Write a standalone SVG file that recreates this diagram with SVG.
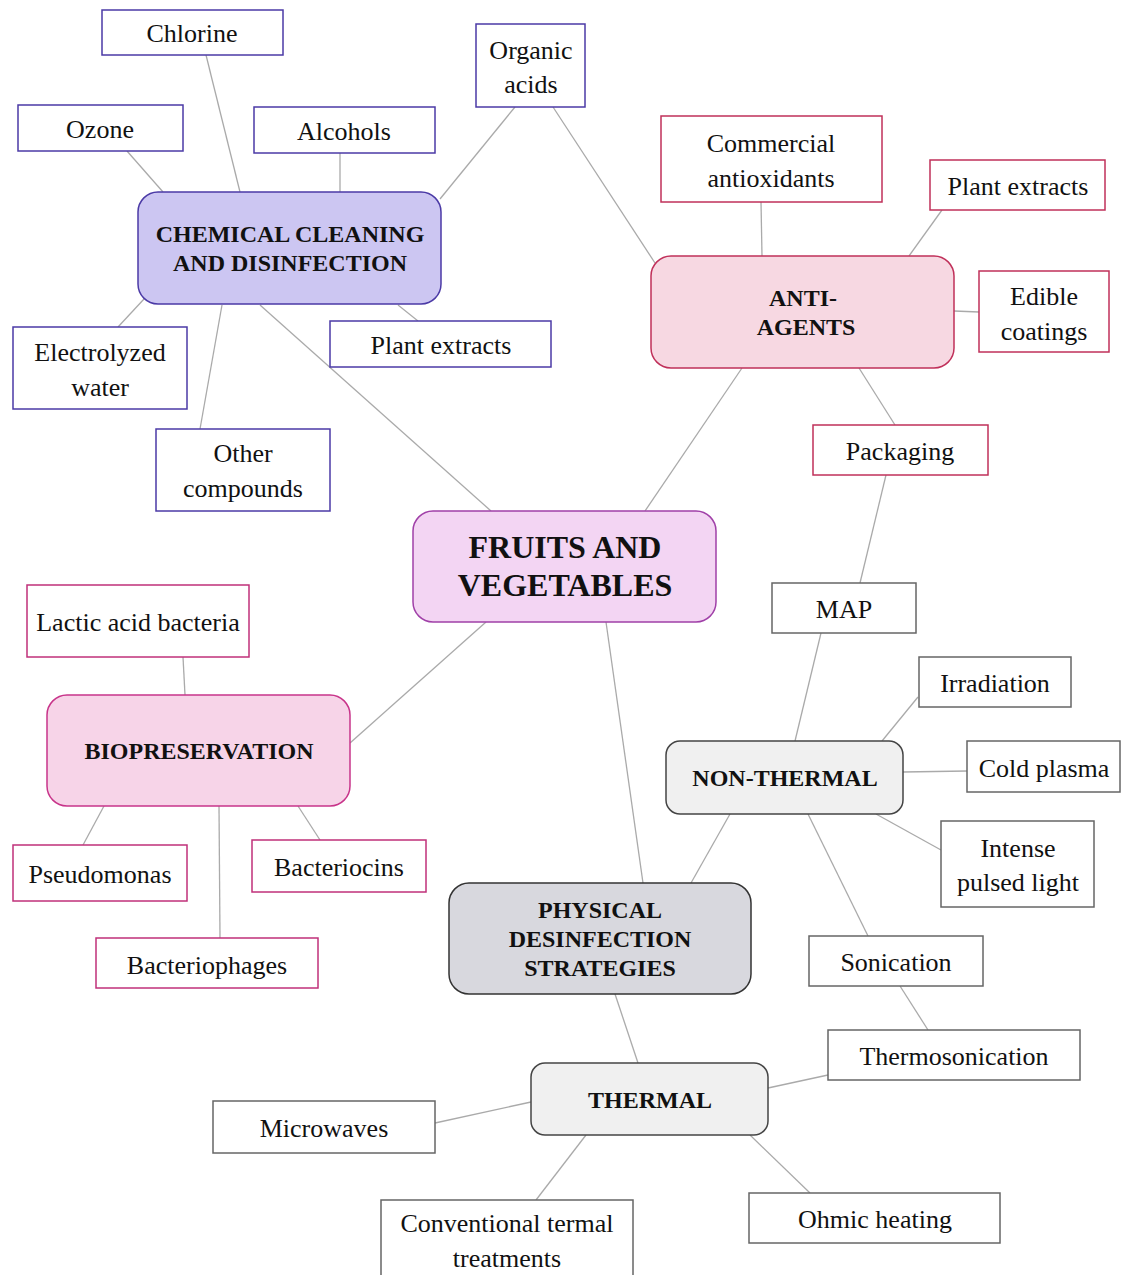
<svg xmlns="http://www.w3.org/2000/svg" width="1124" height="1275" viewBox="0 0 1124 1275">
<style>
text{font-family:"Liberation Serif","DejaVu Serif",serif;fill:#111;text-anchor:middle}
.leaf{font-size:26px}
.hd{font-size:24px;font-weight:bold}
.big{font-size:32px;font-weight:bold}
.bx{fill:#fff;stroke-width:1.5}
.cb{stroke:#4b3aa6}
.ab{stroke:#c0305a}
.bb{stroke:#c0307a}
.pb{stroke:#666}
#connectors line{stroke:#aaa;stroke-width:1.3}
</style>
<rect width="1124" height="1275" fill="#fff"/>
<g id="connectors">
<line x1="127" y1="151" x2="163" y2="192"/>
<line x1="206" y1="55" x2="240" y2="192"/>
<line x1="340" y1="153" x2="340" y2="192"/>
<line x1="515" y1="107" x2="440" y2="199"/>
<line x1="553" y1="107" x2="655" y2="263"/>
<line x1="144" y1="299" x2="118" y2="327"/>
<line x1="222" y1="305" x2="200" y2="429"/>
<line x1="398" y1="305" x2="418" y2="321"/>
<line x1="260" y1="305" x2="491" y2="511"/>
<line x1="761" y1="202" x2="762" y2="256"/>
<line x1="942" y1="210" x2="909" y2="256"/>
<line x1="954" y1="311" x2="979" y2="312"/>
<line x1="859" y1="368" x2="895" y2="425"/>
<line x1="742" y1="368" x2="645" y2="511"/>
<line x1="886" y1="475" x2="860" y2="583"/>
<line x1="821" y1="633" x2="795" y2="741"/>
<line x1="918" y1="697" x2="882" y2="741"/>
<line x1="903" y1="772" x2="967" y2="771"/>
<line x1="876" y1="814" x2="941" y2="850"/>
<line x1="808" y1="814" x2="868" y2="936"/>
<line x1="730" y1="814" x2="691" y2="883"/>
<line x1="606" y1="622" x2="643" y2="883"/>
<line x1="486" y1="622" x2="350" y2="743"/>
<line x1="183" y1="657" x2="185" y2="695"/>
<line x1="104" y1="806" x2="83" y2="845"/>
<line x1="219" y1="806" x2="220" y2="938"/>
<line x1="298" y1="806" x2="320" y2="840"/>
<line x1="900" y1="986" x2="928" y2="1030"/>
<line x1="615" y1="994" x2="638" y2="1063"/>
<line x1="768" y1="1088" x2="828" y2="1075"/>
<line x1="531" y1="1102" x2="435" y2="1123"/>
<line x1="586" y1="1135" x2="536" y2="1200"/>
<line x1="750" y1="1135" x2="810" y2="1193"/>
</g>

<g id="fruits"><rect x="413" y="511" width="303" height="111" rx="20" fill="#f3d5f3" stroke="#a040a8" stroke-width="1.5"/><text class="big" x="565" y="558">FRUITS AND</text><text class="big" x="565" y="596">VEGETABLES</text></g>

<g id="chemical"><rect x="138" y="192" width="303" height="112" rx="20" fill="#ccc6f2" stroke="#4b3aa6" stroke-width="1.5"/><text class="hd" x="290" y="242">CHEMICAL CLEANING</text><text class="hd" x="290" y="271">AND DISINFECTION</text></g>
<g id="chlorine"><rect class="bx cb" x="102" y="10" width="181" height="45"/><text class="leaf" x="192" y="42">Chlorine</text></g>
<g id="ozone"><rect class="bx cb" x="18" y="105" width="165" height="46"/><text class="leaf" x="100" y="138">Ozone</text></g>
<g id="alcohols"><rect class="bx cb" x="254" y="107" width="181" height="46"/><text class="leaf" x="344" y="140">Alcohols</text></g>
<g id="organic"><rect class="bx cb" x="476" y="24" width="109" height="83"/><text class="leaf" x="531" y="59">Organic</text><text class="leaf" x="531" y="93">acids</text></g>
<g id="electrolyzed"><rect class="bx cb" x="13" y="327" width="174" height="82"/><text class="leaf" x="100" y="361">Electrolyzed</text><text class="leaf" x="100" y="396">water</text></g>
<g id="plant-chem"><rect class="bx cb" x="330" y="321" width="221" height="46"/><text class="leaf" x="441" y="354">Plant extracts</text></g>
<g id="other"><rect class="bx cb" x="156" y="429" width="174" height="82"/><text class="leaf" x="243" y="462">Other</text><text class="leaf" x="243" y="497">compounds</text></g>

<g id="anti"><rect x="651" y="256" width="303" height="112" rx="20" fill="#f7d8e2" stroke="#c0305a" stroke-width="1.5"/><text class="hd" x="803" y="306">ANTI-</text><text class="hd" x="806" y="335">AGENTS</text></g>
<g id="commercial"><rect class="bx ab" x="661" y="116" width="221" height="86"/><text class="leaf" x="771" y="152">Commercial</text><text class="leaf" x="771" y="187">antioxidants</text></g>
<g id="plant-anti"><rect class="bx ab" x="930" y="160" width="175" height="50"/><text class="leaf" x="1018" y="195">Plant extracts</text></g>
<g id="edible"><rect class="bx ab" x="979" y="271" width="130" height="81"/><text class="leaf" x="1044" y="305">Edible</text><text class="leaf" x="1044" y="340">coatings</text></g>
<g id="packaging"><rect class="bx ab" x="813" y="425" width="175" height="50"/><text class="leaf" x="900" y="460">Packaging</text></g>

<g id="map"><rect class="bx pb" x="772" y="583" width="144" height="50"/><text class="leaf" x="844" y="618">MAP</text></g>
<g id="nonthermal"><rect x="666" y="741" width="237" height="73" rx="14" fill="#f0f0f0" stroke="#444" stroke-width="1.5"/><text class="hd" x="785" y="786">NON-THERMAL</text></g>
<g id="irradiation"><rect class="bx pb" x="919" y="657" width="152" height="50"/><text class="leaf" x="995" y="692">Irradiation</text></g>
<g id="coldplasma"><rect class="bx pb" x="967" y="741" width="153" height="51"/><text class="leaf" x="1044" y="777">Cold plasma</text></g>
<g id="intense"><rect class="bx pb" x="941" y="821" width="153" height="86"/><text class="leaf" x="1018" y="857">Intense</text><text class="leaf" x="1018" y="891">pulsed light</text></g>
<g id="sonication"><rect class="bx pb" x="809" y="936" width="174" height="50"/><text class="leaf" x="896" y="971">Sonication</text></g>
<g id="thermosonication"><rect class="bx pb" x="828" y="1030" width="252" height="50"/><text class="leaf" x="954" y="1065">Thermosonication</text></g>

<g id="bio"><rect x="47" y="695" width="303" height="111" rx="20" fill="#f7d4e8" stroke="#c8348a" stroke-width="1.5"/><text class="hd" x="199" y="759">BIOPRESERVATION</text></g>
<g id="lactic"><rect class="bx bb" x="27" y="585" width="222" height="72"/><text class="leaf" x="138" y="631">Lactic acid bacteria</text></g>
<g id="pseudomonas"><rect class="bx bb" x="13" y="845" width="174" height="56"/><text class="leaf" x="100" y="883">Pseudomonas</text></g>
<g id="bacteriocins"><rect class="bx bb" x="252" y="840" width="174" height="52"/><text class="leaf" x="339" y="876">Bacteriocins</text></g>
<g id="bacteriophages"><rect class="bx bb" x="96" y="938" width="222" height="50"/><text class="leaf" x="207" y="974">Bacteriophages</text></g>

<g id="physical"><rect x="449" y="883" width="302" height="111" rx="20" fill="#d8d8de" stroke="#333" stroke-width="1.5"/><text class="hd" x="600" y="918">PHYSICAL</text><text class="hd" x="600" y="947">DESINFECTION</text><text class="hd" x="600" y="976">STRATEGIES</text></g>
<g id="thermal"><rect x="531" y="1063" width="237" height="72" rx="14" fill="#f0f0f0" stroke="#444" stroke-width="1.5"/><text class="hd" x="650" y="1108">THERMAL</text></g>
<g id="microwaves"><rect class="bx pb" x="213" y="1101" width="222" height="52"/><text class="leaf" x="324" y="1137">Microwaves</text></g>
<g id="conventional"><rect class="bx pb" x="381" y="1200" width="252" height="80"/><text class="leaf" x="507" y="1232">Conventional termal</text><text class="leaf" x="507" y="1267">treatments</text></g>
<g id="ohmic"><rect class="bx pb" x="749" y="1193" width="251" height="50"/><text class="leaf" x="875" y="1228">Ohmic heating</text></g>
</svg>
